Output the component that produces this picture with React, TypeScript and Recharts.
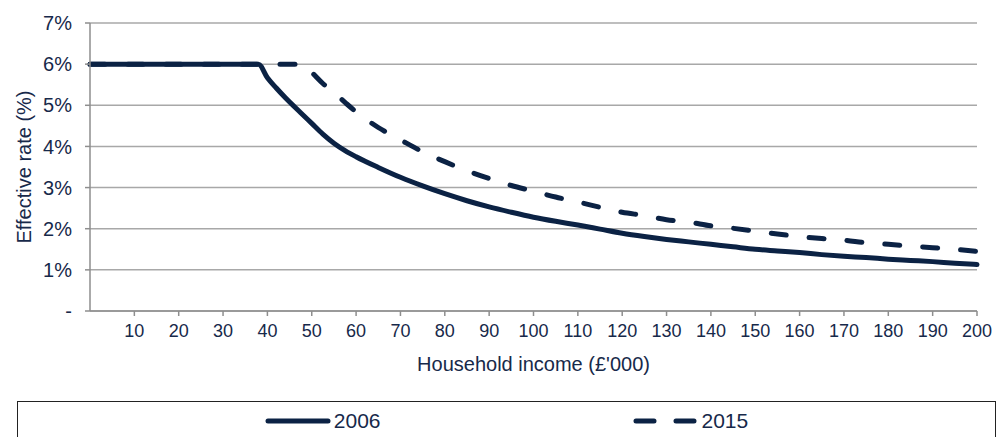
import React from 'react';
import { LineChart, Line, XAxis, YAxis, CartesianGrid, Legend } from 'recharts';

const NAVY = '#0b2244';
const TEXT = '#17294a';
const FONT = '"Liberation Sans", Arial, sans-serif';

// household income (£'000) and effective rate (%)
const income2006 = [0, 10, 20, 30, 38, 40, 42, 44, 47.5, 50, 52.5, 55, 57.5, 60, 65, 70, 75, 80, 85, 90, 95, 100, 105, 110, 115, 120, 125, 130, 135, 140, 145, 150, 155, 160, 165, 170, 175, 180, 185, 190, 195, 200];
const rate2006 = [6, 6, 6, 6, 6, 5.67, 5.42, 5.19, 4.82, 4.56, 4.3, 4.08, 3.9, 3.75, 3.49, 3.25, 3.04, 2.85, 2.68, 2.53, 2.4, 2.28, 2.18, 2.09, 1.99, 1.89, 1.81, 1.74, 1.68, 1.62, 1.56, 1.5, 1.46, 1.42, 1.37, 1.33, 1.3, 1.26, 1.23, 1.2, 1.16, 1.13];

const income2015 = [0, 10, 20, 30, 40, 48, 50, 52.5, 55, 57.5, 60, 62.5, 65, 70, 75, 80, 85, 90, 95, 100, 105, 110, 115, 120, 125, 130, 135, 140, 145, 150, 155, 160, 165, 170, 175, 180, 185, 190, 195, 200];
const rate2015 = [6, 6, 6, 6, 6, 6, 5.8, 5.53, 5.31, 5.07, 4.84, 4.64, 4.46, 4.16, 3.87, 3.63, 3.41, 3.22, 3.05, 2.91, 2.77, 2.65, 2.52, 2.4, 2.32, 2.22, 2.16, 2.07, 2.01, 1.94, 1.87, 1.81, 1.76, 1.72, 1.66, 1.62, 1.58, 1.54, 1.5, 1.45];

const xTicks = [10, 20, 30, 40, 50, 60, 70, 80, 90, 100, 110, 120, 130, 140, 150, 160, 170, 180, 190, 200];
const yTicks = [0, 1, 2, 3, 4, 5, 6, 7];

const data2006 = income2006.map((x, i) => ({ income: x, rate: rate2006[i] }));
const data2015 = income2015.map((x, i) => ({ income: x, rate: rate2015[i] }));

const renderLegend = () => (
    <div
        style={{
            boxSizing: 'border-box',
            height: 40,
            border: '1.5px solid #222',
            display: 'flex',
            justifyContent: 'center',
            alignItems: 'center',
            gap: 252,
            fontFamily: FONT,
            fontSize: 21,
            color: TEXT,
        }}
    >
        <div style={{ display: 'flex', alignItems: 'center' }}>
            <svg width={66} height={10}>
                <line x1={3} y1={5} x2={63} y2={5} stroke={NAVY} strokeWidth={5} strokeLinecap="round" />
            </svg>
            <span style={{ marginLeft: 3 }}>2006</span>
        </div>
        <div style={{ display: 'flex', alignItems: 'center' }}>
            <svg width={66} height={10}>
                <line x1={3} y1={5} x2={63} y2={5} stroke={NAVY} strokeWidth={5} strokeLinecap="round" strokeDasharray="18 22" />
            </svg>
            <span style={{ marginLeft: 3 }}>2015</span>
        </div>
    </div>
);

const App: React.FC = () => {
    return (
        <div style={{ position: 'absolute', left: 0, top: 0, fontFamily: FONT }}>
            <LineChart width={1003} height={437} margin={{ top: 23, right: 26, left: 0, bottom: 26 }}>
                <CartesianGrid horizontal vertical={false} stroke="#a8a8a8" strokeWidth={1.5} />
                <XAxis
                    type="number"
                    dataKey="income"
                    domain={[0, 200]}
                    ticks={xTicks}
                    interval={0}
                    height={60}
                    stroke="#8e8e8e"
                    strokeWidth={1.5}
                    tickSize={5}
                    tickMargin={8}
                    tick={{ fill: TEXT, fontSize: 18, fontFamily: FONT }}
                    label={{ value: "Household income (£'000)", position: 'insideBottom', offset: 0, fill: TEXT, fontSize: 20, fontFamily: FONT }}
                />
                <YAxis
                    type="number"
                    domain={[0, 7]}
                    ticks={yTicks}
                    interval={0}
                    width={90}
                    stroke="#8e8e8e"
                    strokeWidth={1.5}
                    tickSize={5}
                    tickMargin={13}
                    tickFormatter={(v: number) => (v === 0 ? '-' : `${v}%`)}
                    tick={{ fill: TEXT, fontSize: 20, fontFamily: FONT }}
                    label={{
                        content: ({ viewBox }: any) => (
                            <text
                                x={24}
                                y={viewBox.y + viewBox.height / 2}
                                transform={`rotate(-90, 24, ${viewBox.y + viewBox.height / 2})`}
                                textAnchor="middle"
                                dominantBaseline="central"
                                fill={TEXT}
                                fontSize={20}
                                fontFamily={FONT}
                            >
                                Effective rate (%)
                            </text>
                        ),
                    }}
                />
                <Legend
                    content={renderLegend}
                    wrapperStyle={{ left: 17, top: 401, bottom: 'auto', width: 979 }}
                />
                <Line
                    data={data2006}
                    dataKey="rate"
                    name="2006"
                    type="monotone"
                    stroke={NAVY}
                    strokeWidth={5}
                    strokeLinejoin="round"
                    strokeLinecap="round"
                    dot={false}
                    activeDot={false}
                    isAnimationActive={false}
                />
                <Line
                    data={data2015}
                    dataKey="rate"
                    name="2015"
                    type="monotone"
                    stroke={NAVY}
                    strokeWidth={5}
                    strokeDasharray="15 23"
                    strokeLinejoin="round"
                    strokeLinecap="round"
                    dot={false}
                    activeDot={false}
                    isAnimationActive={false}
                />
            </LineChart>
        </div>
    );
};

export default App;
